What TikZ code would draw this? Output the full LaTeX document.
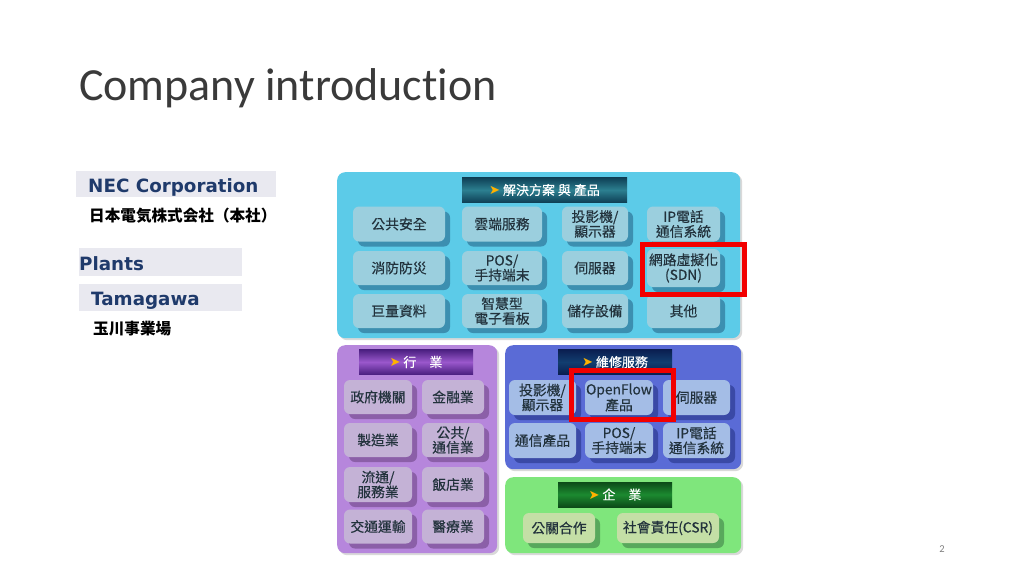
\documentclass[tikz,border=0pt]{standalone}
\usepackage{fontspec}
\setmainfont{Carlito}[Ligatures=NoCommon]
\newfontfamily\cjk{Noto Sans CJK TC}[FakeBold=0.35]
\newfontfamily\cjkjp{Noto Sans CJK JP}
\newfontfamily\dvs{DejaVu Sans}
\usetikzlibrary{shadows}
\definecolor{navy}{HTML}{1F3A6B}
\definecolor{band}{HTML}{E9E9F0}
\definecolor{tiletext}{HTML}{22323C}
\definecolor{titletext}{HTML}{3A3A3A}
\definecolor{cyanpanel}{HTML}{5CCBE8}
\definecolor{cyantile}{HTML}{9BCFDE}
\definecolor{cyanshade}{HTML}{3C8FB0}
\definecolor{purplepanel}{HTML}{B686DC}
\definecolor{purpletile}{HTML}{C4B2D6}
\definecolor{purpleshade}{HTML}{8B5FA8}
\definecolor{bluepanel}{HTML}{5A6BD6}
\definecolor{bluetile}{HTML}{A4BDE6}
\definecolor{blueshade}{HTML}{3A49A6}
\definecolor{greenpanel}{HTML}{7FE67C}
\definecolor{greentile}{HTML}{C4DFA6}
\definecolor{greenshade}{HTML}{58A85C}
\definecolor{cyanbarA}{HTML}{0E3F55}
\definecolor{cyanbarB}{HTML}{2C7F90}
\definecolor{purplebarA}{HTML}{4A1F80}
\definecolor{purplebarB}{HTML}{9A58CC}
\definecolor{bluebarA}{HTML}{0A1E50}
\definecolor{bluebarB}{HTML}{123E70}
\definecolor{greenbarA}{HTML}{0C4A18}
\definecolor{greenbarB}{HTML}{1C8A30}
\tikzset{
  panel/.style={fill=#1, rounded corners=8pt, anchor=north west, inner sep=0pt,
    general shadow={fill=white!70!gray, shadow xshift=2pt, shadow yshift=-2pt}},
  tile/.style n args={3}{fill=#1, rounded corners=6pt, inner sep=0pt,
    minimum width=#2, minimum height=#3, align=center, text=tiletext,
    font=\cjk\fontsize{13.8}{14.8}\selectfont},
  cyant/.style 2 args={tile={cyantile}{#1}{#2}, general shadow={fill=cyanshade, shadow xshift=5pt, shadow yshift=-5pt}},
  purplet/.style 2 args={tile={purpletile}{#1}{#2}, general shadow={fill=purpleshade, shadow xshift=5pt, shadow yshift=-5pt}},
  bluet/.style 2 args={tile={bluetile}{#1}{#2}, general shadow={fill=blueshade, shadow xshift=5pt, shadow yshift=-5pt}},
  greent/.style 2 args={tile={greentile}{#1}{#2}, general shadow={fill=greenshade, shadow xshift=5pt, shadow yshift=-5pt}},
  bar/.style n args={3}{inner sep=0pt, minimum width=#1, minimum height=25pt,
    top color=#2, bottom color=#2, middle color=#3, text=white,
    font=\cjk\fontsize{13}{14}\selectfont},
  redbox/.style={draw=red!95!black, line width=5pt, minimum width=102pt, inner sep=0pt},
  bandbox/.style={fill=band, inner sep=0pt, anchor=north west},
  brand/.style={text=navy, inner sep=0pt, anchor=base west, font=\dvs\bfseries\fontsize{18.3}{20}\selectfont},
  jptext/.style={text=black, inner sep=0pt, anchor=base west, font=\cjkjp\bfseries\fontsize{15.6}{17}\selectfont}
}
\newcommand{\arr}{\textcolor{orange!60!yellow}{\dvs\char"27A4}}
\begin{document}
\begin{tikzpicture}[x=1pt,y=-1pt]
\useasboundingbox (0,0) rectangle (1024,576);
\fill[white] (0,0) rectangle (1024,576);
\node[inner sep=0pt, anchor=base west, text=titletext, font=\fontsize{46}{50}\selectfont] (title) at (79,100) {Company introduction};
\node[inner sep=0pt, text=gray, font=\fontsize{10.5}{12}\selectfont] (pageno) at (942,549) {2};

% left column
\node[bandbox, minimum width=200pt, minimum height=26pt] (necband) at (76,171) {};
\node[brand] (nec) at (88,192) {NEC Corporation};
\node[jptext] (necjp) at (89,221) {日本電気株式会社（本社）};
\node[bandbox, minimum width=163pt, minimum height=28pt] (plantsband) at (79,248) {};
\node[brand] (plants) at (79,270) {Plants};
\node[bandbox, minimum width=163pt, minimum height=27pt] (tamaband) at (79,284) {};
\node[brand] (tama) at (91,305) {Tamagawa};
\node[jptext] (tamajp) at (93,334) {玉川事業場};

% panels
\node[panel=cyanpanel, minimum width=403pt, minimum height=166pt] (p1) at (337,172) {};
\node[panel=purplepanel, minimum width=160pt, minimum height=208pt] (p2) at (337,345) {};
\node[panel=bluepanel, minimum width=236pt, minimum height=124pt] (p3) at (505,345) {};
\node[panel=greenpanel, minimum width=236pt, minimum height=76pt] (p4) at (505,477) {};

% title bars
\node[bar={165pt}{cyanbarA}{cyanbarB}] (b1) at (544.5,190) {\arr\ 解決方案 與 產品};
\node[bar={114pt}{purplebarA}{purplebarB}] (b2) at (416,362) {\arr\ 行\quad 業};
\node[bar={114pt}{bluebarA}{bluebarB}] (b3) at (615,362) {\arr\ 維修服務};
\node[bar={114pt}{greenbarA}{greenbarB}] (b4) at (615,494.5) {\arr\ 企\quad 業};

% cyan tiles
\node[cyant={92pt}{35pt}] (a1) at (399,224) {公共安全};
\node[cyant={80pt}{35pt}] (a2) at (502,224) {雲端服務};
\node[cyant={66pt}{35pt}] (a3) at (595,224) {投影機/\\顯示器};
\node[cyant={73pt}{35pt}] (a4) at (683.5,224) {IP電話\\通信系統};
\node[cyant={92pt}{34pt}] (a5) at (399,268) {消防防災};
\node[cyant={80pt}{34pt}] (a6) at (502,268) {POS/\\手持端末};
\node[cyant={66pt}{34pt}] (a7) at (595,268) {伺服器};
\node[cyant={73pt}{38pt}] (a8) at (683.5,268) {網路虛擬化\\(SDN)};
\node[cyant={92pt}{34pt}] (a9) at (399,311) {巨量資料};
\node[cyant={80pt}{34pt}] (a10) at (502,311) {智慧型\\電子看板};
\node[cyant={66pt}{34pt}] (a11) at (595,311) {儲存設備};
\node[cyant={73pt}{34pt}] (a12) at (683.5,311) {其他};

% purple tiles
\node[purplet={68pt}{34pt}] (c1) at (378,397) {政府機關};
\node[purplet={62pt}{34pt}] (c2) at (453,397) {金融業};
\node[purplet={68pt}{34pt}] (c3) at (378,440) {製造業};
\node[purplet={62pt}{34pt}] (c4) at (453,440) {公共/\\通信業};
\node[purplet={68pt}{35pt}] (c5) at (378,484.5) {流通/\\服務業};
\node[purplet={62pt}{35pt}] (c6) at (453,484.5) {飯店業};
\node[purplet={68pt}{34pt}] (c7) at (378,526.5) {交通運輸};
\node[purplet={62pt}{34pt}] (c8) at (453,526.5) {醫療業};

% blue tiles
\node[bluet={67pt}{35pt}] (d1) at (542.5,397.5) {投影機/\\顯示器};
\node[bluet={68pt}{35pt}] (d2) at (619,397.5) {OpenFlow\\產品};
\node[bluet={67pt}{35pt}] (d3) at (696.5,397.5) {伺服器};
\node[bluet={67pt}{35pt}] (d4) at (542.5,440.5) {通信產品};
\node[bluet={68pt}{35pt}] (d5) at (619,440.5) {POS/\\手持端末};
\node[bluet={67pt}{35pt}] (d6) at (696.5,440.5) {IP電話\\通信系統};

% green tiles
\node[greent={72pt}{30pt}] (e1) at (559,528) {公關合作};
\node[greent={102pt}{30pt}] (e2) at (668,528) {社會責任(CSR)};

% highlights
\node[redbox, minimum height=50pt] (r1) at (693.5,269.5) {};
\node[redbox, minimum height=49pt] (r2) at (622.5,395) {};
\end{tikzpicture}
\end{document}
